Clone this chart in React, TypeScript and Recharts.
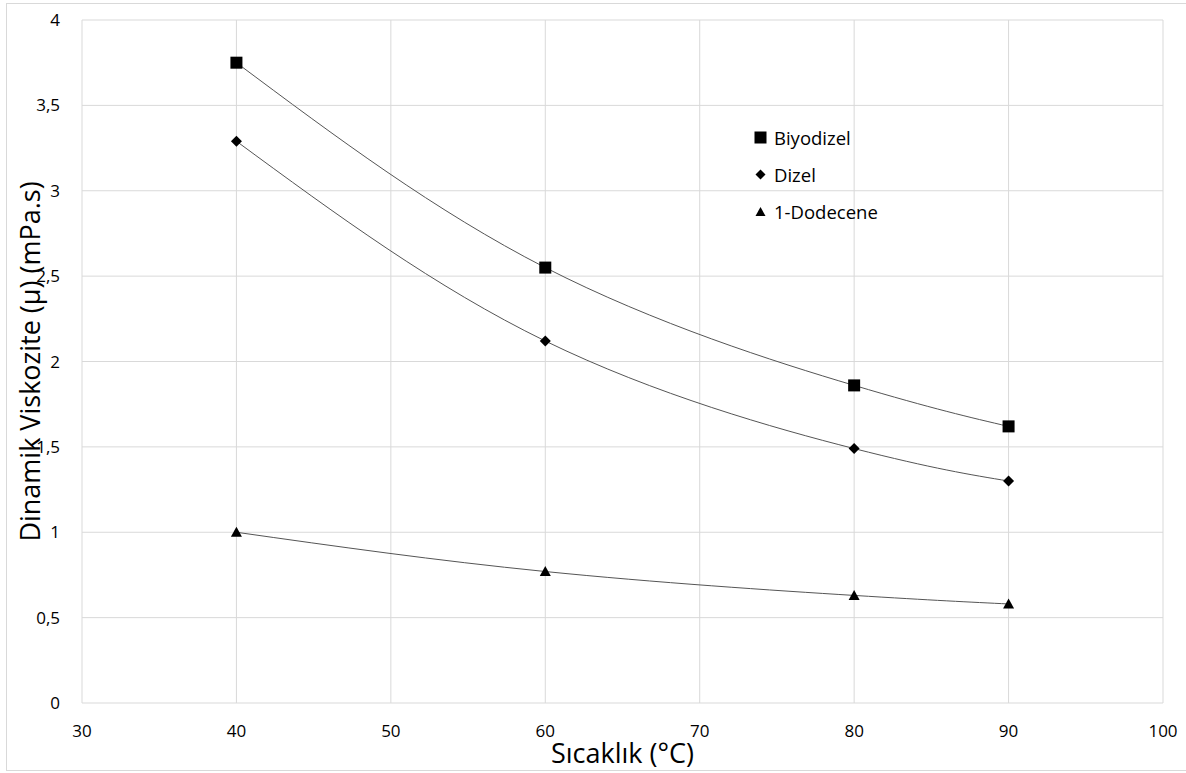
import { LineChart, Line, XAxis, YAxis, CartesianGrid, Label } from "recharts";

// #region data
const temps = [40, 60, 80, 90];
const biyodizel = [3.75, 2.55, 1.86, 1.62];
const dizel = [3.29, 2.12, 1.49, 1.3];
const dodecene = [1.0, 0.77, 0.63, 0.58];

const xTicks = [30, 40, 50, 60, 70, 80, 90, 100];
const yTicks = [0, 0.5, 1, 1.5, 2, 2.5, 3, 3.5, 4];

const seriesNames = ["Biyodizel", "Dizel", "1-Dodecene"];
// #endregion

const data = temps.map((t, i) => ({
  t,
  biyodizel: biyodizel[i],
  dizel: dizel[i],
  dodecene: dodecene[i],
}));

const FONT = "'Open Sans', 'Noto Sans', sans-serif";
const fmt = (v: number) => String(v).replace(".", ",");

// marker shapes
const Square = (p: any) => {
  const { cx, cy } = p;
  if (cx == null || cy == null) return null;
  return <rect key={p.key} x={cx - 6} y={cy - 6} width={12} height={12} fill="#000" />;
};

const Diamond = (p: any) => {
  const { cx, cy } = p;
  if (cx == null || cy == null) return null;
  const r = 5.5;
  return (
    <path
      key={p.key}
      d={`M${cx},${cy - r} L${cx + r},${cy} L${cx},${cy + r} L${cx - r},${cy} Z`}
      fill="#000"
    />
  );
};

const Triangle = (p: any) => {
  const { cx, cy } = p;
  if (cx == null || cy == null) return null;
  return (
    <path
      key={p.key}
      d={`M${cx},${cy - 5.5} L${cx + 5.5},${cy + 4.5} L${cx - 5.5},${cy + 4.5} Z`}
      fill="#000"
    />
  );
};

// legend drawn by hand, placed over the plot like the original
const LegendBox = () => {
  const icons = [
    <rect x={0.5} y={0.5} width={12} height={12} fill="#000" />,
    <path d="M6.5,1.5 L11.5,6.5 L6.5,11.5 L1.5,6.5 Z" fill="#000" />,
    <path d="M6.5,2 L11.5,11 L1.5,11 Z" fill="#000" />,
  ];
  return (
    <div
      style={{
        position: "absolute",
        left: 754,
        top: 119,
        fontFamily: FONT,
        fontSize: 18.5,
        color: "#000",
      }}
    >
      {seriesNames.map((n, i) => (
        <div key={n} style={{ display: "flex", alignItems: "center", height: 37 }}>
          <svg width={13} height={13} style={{ marginRight: 7 }}>
            {icons[i]}
          </svg>
          <span>{n}</span>
        </div>
      ))}
    </div>
  );
};

const App = () => {
  return (
    <div
      style={{
        position: "absolute",
        left: 0,
        top: 0,
        width: 1186,
        height: 773,
        background: "#fff",
      }}
    >
      <div
        style={{
          position: "absolute",
          left: 6,
          top: 3,
          width: 1180,
          height: 768,
          border: "1px solid #d9d9d9",
          borderRight: "none",
          boxSizing: "border-box",
        }}
      />
      <LineChart
        width={1186}
        height={773}
        data={data}
        margin={{ top: 20, right: 23, left: 0, bottom: 0 }}
        style={{ position: "absolute", left: 0, top: 0 }}
      >
        <CartesianGrid stroke="#d9d9d9" strokeWidth={1} />
        <XAxis
          dataKey="t"
          type="number"
          domain={[30, 100]}
          ticks={xTicks}
          height={70}
          axisLine={false}
          tickLine={false}
          tickMargin={16}
          tick={{ fill: "#000", fontSize: 17, fontFamily: FONT }}
        >
          <Label
            value="Sıcaklık (°C)"
            position="insideBottom"
            offset={10}
            style={{ fill: "#000", fontSize: 27, fontFamily: FONT }}
          />
        </XAxis>
        <YAxis
          type="number"
          domain={[0, 4]}
          ticks={yTicks}
          width={82}
          axisLine={false}
          tickLine={false}
          tickMargin={16}
          tickFormatter={fmt}
          tick={{ fill: "#000", fontSize: 17, fontFamily: FONT }}
        >
          <Label
            value="Dinamik Viskozite (µ) (mPa.s)"
            angle={-90}
            position="insideLeft"
            offset={30}
            style={{ fill: "#000", fontSize: 27, fontFamily: FONT, textAnchor: "middle" }}
          />
        </YAxis>
        <Line
          dataKey="biyodizel"
          name={seriesNames[0]}
          type="natural"
          stroke="#555"
          strokeWidth={1}
          dot={Square}
          activeDot={false}
          isAnimationActive={false}
        />
        <Line
          dataKey="dizel"
          name={seriesNames[1]}
          type="natural"
          stroke="#555"
          strokeWidth={1}
          dot={Diamond}
          activeDot={false}
          isAnimationActive={false}
        />
        <Line
          dataKey="dodecene"
          name={seriesNames[2]}
          type="natural"
          stroke="#555"
          strokeWidth={1}
          dot={Triangle}
          activeDot={false}
          isAnimationActive={false}
        />
      </LineChart>
      <LegendBox />
    </div>
  );
};

export default App;
